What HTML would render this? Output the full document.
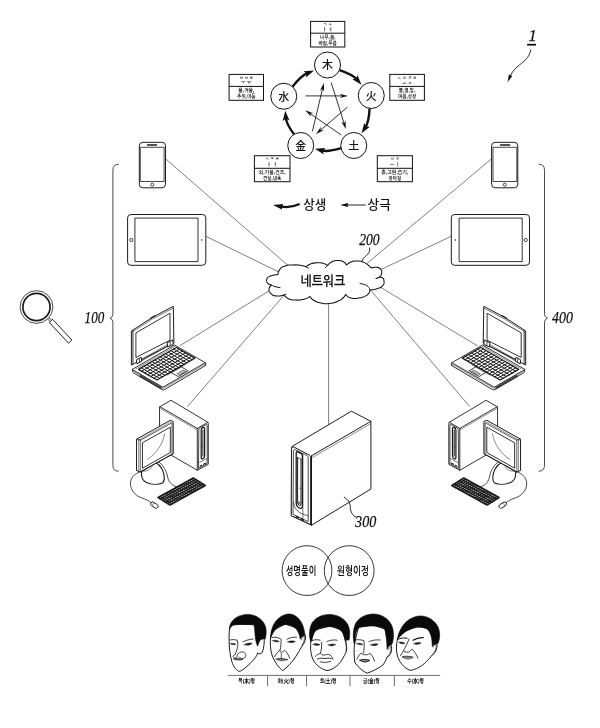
<!DOCTYPE html>
<html lang="ko"><head><meta charset="utf-8"><title>Network system diagram</title>
<style>html,body{margin:0;padding:0;background:#fff}svg{display:block}text{white-space:pre}svg{will-change:transform}</style></head><body>
<svg width="600" height="728" viewBox="0 0 600 728">
<rect width="600" height="728" fill="#fff"/>
<g id="wheel">
<path d="M339.48 70.05 Q352.53 74.41 356.86 79.39" fill="none" stroke="#111" stroke-width="2.4" stroke-linejoin="round" stroke-linecap="butt"/>
<polygon points="361.46,84.67 352.33,79.36 356.21,78.64 357.46,74.9" fill="#111" stroke="none" stroke-width="0" stroke-linejoin="round" />
<path d="M369.6 108.39 Q368.97 121.97 365.42 127.32" fill="none" stroke="#111" stroke-width="2.4" stroke-linejoin="round" stroke-linecap="butt"/>
<polygon points="361.55,133.16 364.24,122.94 365.97,126.49 369.91,126.7" fill="#111" stroke="none" stroke-width="0" stroke-linejoin="round" />
<path d="M341.03 148.2 Q328 152.09 321.76 150.51" fill="none" stroke="#111" stroke-width="2.4" stroke-linejoin="round" stroke-linecap="butt"/>
<polygon points="314.98,148.78 325.51,147.95 322.73,150.75 323.83,154.54" fill="#111" stroke="none" stroke-width="0" stroke-linejoin="round" />
<path d="M294.05 134.36 Q286.26 123.74 285.81 117.75" fill="none" stroke="#111" stroke-width="2.4" stroke-linejoin="round" stroke-linecap="butt"/>
<polygon points="285.29,110.77 289.43,120.49 285.89,118.75 282.65,121" fill="#111" stroke="none" stroke-width="0" stroke-linejoin="round" />
<path d="M292.53 86.66 Q301.18 75.7 307.51 73.18" fill="none" stroke="#111" stroke-width="2.4" stroke-linejoin="round" stroke-linecap="butt"/>
<polygon points="314.02,70.6 305.98,77.45 306.58,73.55 303.47,71.13" fill="#111" stroke="none" stroke-width="0" stroke-linejoin="round" />
<line x1="305.5" y1="95.9" x2="343" y2="95.9" stroke="#111" stroke-width="0.85" />
<polygon points="348,95.9 339.6,98.1 342.29,95.9 339.6,93.7" fill="#111" stroke="none" stroke-width="0" stroke-linejoin="round" />
<line x1="331.2" y1="82.5" x2="344.39" y2="124.23" stroke="#111" stroke-width="0.85" />
<polygon points="345.9,129 341.27,121.65 344.18,123.55 345.47,120.33" fill="#111" stroke="none" stroke-width="0" stroke-linejoin="round" />
<line x1="347.6" y1="107" x2="319.8" y2="130.75" stroke="#111" stroke-width="0.85" />
<polygon points="316,134 320.96,126.87 320.34,130.29 323.82,130.22" fill="#111" stroke="none" stroke-width="0" stroke-linejoin="round" />
<line x1="341.3" y1="135" x2="309.42" y2="113.13" stroke="#111" stroke-width="0.85" />
<polygon points="305.3,110.3 313.47,113.24 310.01,113.53 310.98,116.87" fill="#111" stroke="none" stroke-width="0" stroke-linejoin="round" />
<line x1="312.4" y1="131.4" x2="322.74" y2="87.86" stroke="#111" stroke-width="0.85" />
<polygon points="323.9,83 324.1,91.68 322.58,88.56 319.82,90.66" fill="#111" stroke="none" stroke-width="0" stroke-linejoin="round" />
<circle cx="327.5" cy="65" r="13" fill="#fff" stroke="#111" stroke-width="1"/>
<text x="327.5" y="69.4" font-family='"Liberation Sans", "Noto Sans CJK KR", "Noto Sans CJK SC", sans-serif' font-size="11" text-anchor="middle" font-weight="500" font-style="normal" fill="#111" >木</text>
<circle cx="371.25" cy="95.5" r="13" fill="#fff" stroke="#111" stroke-width="1"/>
<text x="371.25" y="99.9" font-family='"Liberation Sans", "Noto Sans CJK KR", "Noto Sans CJK SC", sans-serif' font-size="11" text-anchor="middle" font-weight="500" font-style="normal" fill="#111" >火</text>
<circle cx="353.75" cy="145.5" r="13" fill="#fff" stroke="#111" stroke-width="1"/>
<text x="353.75" y="149.9" font-family='"Liberation Sans", "Noto Sans CJK KR", "Noto Sans CJK SC", sans-serif' font-size="11" text-anchor="middle" font-weight="500" font-style="normal" fill="#111" >土</text>
<circle cx="300.75" cy="145.5" r="13" fill="#fff" stroke="#111" stroke-width="1"/>
<text x="300.75" y="149.9" font-family='"Liberation Sans", "Noto Sans CJK KR", "Noto Sans CJK SC", sans-serif' font-size="11" text-anchor="middle" font-weight="500" font-style="normal" fill="#111" >金</text>
<circle cx="283.75" cy="96.25" r="13" fill="#fff" stroke="#111" stroke-width="1"/>
<text x="283.75" y="100.65" font-family='"Liberation Sans", "Noto Sans CJK KR", "Noto Sans CJK SC", sans-serif' font-size="11" text-anchor="middle" font-weight="500" font-style="normal" fill="#111" >水</text>
</g>
<g id="boxes">
<rect x="310.6" y="21.4" width="34.2" height="25.6" fill="#fff" stroke="#111" stroke-width="1"/>
<line x1="310.6" y1="33.2" x2="344.8" y2="33.2" stroke="#111" stroke-width="1" />
<text x="327.7" y="25.7" font-family='"Liberation Sans", "NanumGothic", "Noto Sans CJK KR", sans-serif' font-size="4.2" text-anchor="middle" font-weight="bold" font-style="normal" fill="#111" >ㄱ ㅋ</text>
<text x="327.7" y="31.3" font-family='"Liberation Sans", "NanumGothic", "Noto Sans CJK KR", sans-serif' font-size="4.6" text-anchor="middle" font-weight="bold" font-style="normal" fill="#111" >ㅏ ㅕ</text>
<text x="327.7" y="39.1" font-family='"Liberation Sans", "NanumGothic", "Noto Sans CJK KR", sans-serif' font-size="5.2" text-anchor="middle" font-weight="bold" font-style="normal" fill="#111" textLength="15.8" lengthAdjust="spacingAndGlyphs">나무,봄,</text>
<text x="327.7" y="44.8" font-family='"Liberation Sans", "NanumGothic", "Noto Sans CJK KR", sans-serif' font-size="5.2" text-anchor="middle" font-weight="bold" font-style="normal" fill="#111" textLength="18.4" lengthAdjust="spacingAndGlyphs">바람,푸름</text>
<rect x="229.1" y="74.4" width="34.4" height="25.9" fill="#fff" stroke="#111" stroke-width="1"/>
<line x1="229.1" y1="86.4" x2="263.5" y2="86.4" stroke="#111" stroke-width="1" />
<text x="246.3" y="78.7" font-family='"Liberation Sans", "NanumGothic", "Noto Sans CJK KR", sans-serif' font-size="4.2" text-anchor="middle" font-weight="bold" font-style="normal" fill="#111" >ㅁ ㅂ ㅍ</text>
<text x="246.3" y="84.3" font-family='"Liberation Sans", "NanumGothic", "Noto Sans CJK KR", sans-serif' font-size="4.6" text-anchor="middle" font-weight="bold" font-style="normal" fill="#111" >ㅜ ㅠ</text>
<text x="246.3" y="92.3" font-family='"Liberation Sans", "NanumGothic", "Noto Sans CJK KR", sans-serif' font-size="5.2" text-anchor="middle" font-weight="bold" font-style="normal" fill="#111" textLength="16" lengthAdjust="spacingAndGlyphs">물,겨울,</text>
<text x="246.3" y="98" font-family='"Liberation Sans", "NanumGothic", "Noto Sans CJK KR", sans-serif' font-size="5.2" text-anchor="middle" font-weight="bold" font-style="normal" fill="#111" textLength="18.4" lengthAdjust="spacingAndGlyphs">추위,어둠</text>
<rect x="389.8" y="74.4" width="34.6" height="25.9" fill="#fff" stroke="#111" stroke-width="1"/>
<line x1="389.8" y1="86.4" x2="424.4" y2="86.4" stroke="#111" stroke-width="1" />
<text x="407.1" y="78.7" font-family='"Liberation Sans", "NanumGothic", "Noto Sans CJK KR", sans-serif' font-size="4.2" text-anchor="middle" font-weight="bold" font-style="normal" fill="#111" >ㄴ ㄷ ㄹ ㅌ</text>
<text x="407.1" y="84.3" font-family='"Liberation Sans", "NanumGothic", "Noto Sans CJK KR", sans-serif' font-size="4.6" text-anchor="middle" font-weight="bold" font-style="normal" fill="#111" >ㅗ ㅛ</text>
<text x="407.1" y="92.3" font-family='"Liberation Sans", "NanumGothic", "Noto Sans CJK KR", sans-serif' font-size="5.2" text-anchor="middle" font-weight="bold" font-style="normal" fill="#111" textLength="16.6" lengthAdjust="spacingAndGlyphs">불,열,빛,</text>
<text x="407.1" y="98" font-family='"Liberation Sans", "NanumGothic", "Noto Sans CJK KR", sans-serif' font-size="5.2" text-anchor="middle" font-weight="bold" font-style="normal" fill="#111" textLength="18.4" lengthAdjust="spacingAndGlyphs">여름,성장</text>
<rect x="254.4" y="155.7" width="35.6" height="26" fill="#fff" stroke="#111" stroke-width="1"/>
<line x1="254.4" y1="168.3" x2="290" y2="168.3" stroke="#111" stroke-width="1" />
<text x="272.2" y="160" font-family='"Liberation Sans", "NanumGothic", "Noto Sans CJK KR", sans-serif' font-size="4.2" text-anchor="middle" font-weight="bold" font-style="normal" fill="#111" >ㅅ ㅈ ㅊ</text>
<text x="272.2" y="165.6" font-family='"Liberation Sans", "NanumGothic", "Noto Sans CJK KR", sans-serif' font-size="4.6" text-anchor="middle" font-weight="bold" font-style="normal" fill="#111" >ㅑ ㅓ</text>
<text x="272.2" y="174.2" font-family='"Liberation Sans", "NanumGothic", "Noto Sans CJK KR", sans-serif' font-size="5.2" text-anchor="middle" font-weight="bold" font-style="normal" fill="#111" textLength="27" lengthAdjust="spacingAndGlyphs">쇠,가을,건조,</text>
<text x="272.2" y="179.9" font-family='"Liberation Sans", "NanumGothic", "Noto Sans CJK KR", sans-serif' font-size="5.2" text-anchor="middle" font-weight="bold" font-style="normal" fill="#111" textLength="18.4" lengthAdjust="spacingAndGlyphs">견실,냉혹</text>
<rect x="377.3" y="155.7" width="35.1" height="26" fill="#fff" stroke="#111" stroke-width="1"/>
<line x1="377.3" y1="168.3" x2="412.4" y2="168.3" stroke="#111" stroke-width="1" />
<text x="394.85" y="160" font-family='"Liberation Sans", "NanumGothic", "Noto Sans CJK KR", sans-serif' font-size="4.2" text-anchor="middle" font-weight="bold" font-style="normal" fill="#111" >ㅇ ㅎ</text>
<text x="394.85" y="165.6" font-family='"Liberation Sans", "NanumGothic", "Noto Sans CJK KR", sans-serif' font-size="4.6" text-anchor="middle" font-weight="bold" font-style="normal" fill="#111" >ㅡ ㅣ</text>
<text x="394.85" y="174.2" font-family='"Liberation Sans", "NanumGothic", "Noto Sans CJK KR", sans-serif' font-size="5.2" text-anchor="middle" font-weight="bold" font-style="normal" fill="#111" textLength="27" lengthAdjust="spacingAndGlyphs">흙,고원,습기,</text>
<text x="394.85" y="179.9" font-family='"Liberation Sans", "NanumGothic", "Noto Sans CJK KR", sans-serif' font-size="5.2" text-anchor="middle" font-weight="bold" font-style="normal" fill="#111" textLength="12.6" lengthAdjust="spacingAndGlyphs">장마철</text>
</g>
<g id="legend">
<path d="M299.6 204.0 C294.0 206.6 288.5 207.8 281.5 206.6" fill="none" stroke="#111" stroke-width="2.2" stroke-linejoin="round" stroke-linecap="butt"/>
<polygon points="273,204.9 282.98,203.89 281.87,209.58" fill="#111" stroke="none" stroke-width="0" stroke-linejoin="round" />
<text x="314.8" y="208.9" font-family='"Liberation Sans", "Noto Sans CJK KR", "NanumGothic", sans-serif' font-size="12.6" text-anchor="middle" font-weight="500" font-style="normal" fill="#111" >상생</text>
<line x1="365.8" y1="205" x2="345" y2="205" stroke="#111" stroke-width="0.9" />
<polygon points="340.2,205 347.8,202.9 347.8,207.1" fill="#111" stroke="none" stroke-width="0" stroke-linejoin="round" />
<text x="379.2" y="208.9" font-family='"Liberation Sans", "Noto Sans CJK KR", "NanumGothic", sans-serif' font-size="12.6" text-anchor="middle" font-weight="500" font-style="normal" fill="#111" >상극</text>
</g>
<g id="links" stroke="#2a2a2a" stroke-width="0.6" fill="none">
<line x1="165.6" y1="158.8" x2="292.28" y2="269.2"/>
<line x1="205.9" y1="236.3" x2="284.09" y2="274.58"/>
<line x1="179.6" y1="345.9" x2="276.16" y2="286.53"/>
<line x1="187.3" y1="406.7" x2="286.89" y2="291.91"/>
<line x1="491.5" y1="158.8" x2="364.94" y2="265.2"/>
<line x1="451.2" y1="236.3" x2="374.87" y2="272.39"/>
<line x1="477.5" y1="345.9" x2="375.01" y2="283.98"/>
<line x1="469.8" y1="406.7" x2="367.66" y2="286.67"/>
<line x1="328.6" y1="298" x2="328.6" y2="425.3"/>
</g>
<g id="cloud">
<path d="M278 274.5 C278.53 272.87 277.27 272.43 279.6 269.6 C281.93 266.77 280.87 267.53 285 266 C289.13 264.47 287 265.23 292 265 C297 264.77 295.33 264.7 300 265.3 C304.67 265.9 304 266.3 306 266.8 C307.5 265.87 306.83 265.33 310.5 264 C314.17 262.67 312.67 263 317 262.8 C321.33 262.6 320 262.5 323.5 263.4 C327 264.3 326.17 264.8 327.5 265.5 C328.83 264.33 328 263.67 331.5 262 C335 260.33 334 260.57 338 260.5 C342 260.43 340.67 260.3 343.5 261.8 C346.33 263.3 345.5 263.93 346.5 265 C348 264 347.5 263.33 351 262 C354.5 260.67 352.5 260.8 357 261 C361.5 261.2 359.67 260.27 364.5 262.6 C369.33 264.93 369.17 266.2 371.5 268 C373.33 267.77 373.83 266.7 377 267.3 C380.17 267.9 379.47 267.7 381 269.8 C382.53 271.9 382.07 271.27 381.6 273.6 C381.13 275.93 381.47 275.17 379.6 276.8 C377.73 278.43 377.2 277.93 376 278.5 C377.83 278.2 378.83 276.6 381.5 277.6 C384.17 278.6 383.7 278.7 384 281.5 C384.3 284.3 384.73 283.57 382.4 286 C380.07 288.43 381.13 287.47 377 288.8 C372.87 290.13 372.33 289.6 370 290 C369.2 291.53 370.93 292 367.6 294.6 C364.27 297.2 365.53 296.67 360 297.8 C354.47 298.93 355.83 299.1 351 298 C346.17 296.9 347.33 295.67 345.5 294.5 C344.67 295.67 345.83 295.63 343 298 C340.17 300.37 341.67 299.77 337 301.6 C332.33 303.43 334.33 303.03 329 303.5 C323.67 303.97 326 304 321 303 C316 302 317.67 302.67 314 300.5 C310.33 298.33 311.33 297.83 310 296.5 C308 297.4 309 298.03 304 299.2 C299 300.37 300.33 300.27 295 300 C289.67 299.73 291.67 300.07 288 298.4 C284.33 296.73 285.33 296.13 284 295 C281.5 295.33 280.83 296.47 276.5 296 C272.17 295.53 273.5 295.93 271 293.6 C268.5 291.27 268.83 291.87 269 289 C269.17 286.13 270.67 286.33 271.5 285 C270.2 284.4 269.17 285.13 267.6 283.2 C266.03 281.27 265.8 281.6 266.8 279.2 C267.8 276.8 266.87 277.57 270.6 276 C274.33 274.43 275.53 275 278 274.5 Z" fill="#fff" stroke="#111" stroke-width="1.05" stroke-linecap="round" stroke-linejoin="round" />
<path d="M370.0 290.0 C369.33 288.87 369.83 288.4 368 286.6 C366.17 284.8 367.17 285.63 364.5 284.6 C361.83 283.57 361.5 283.87 360 283.5" fill="none" stroke="#111" stroke-width="1.0" stroke-linecap="round" stroke-linejoin="round" />
<path d="M271.5 285.0 C272.67 285.53 272.17 285.77 275 286.6 C277.83 287.43 278.33 287.2 280 287.5" fill="none" stroke="#111" stroke-width="1.0" stroke-linecap="round" stroke-linejoin="round" />
<path d="M306.0 266.8 L308.5 268.2 M327.5 265.5 L325.2 267.8 M284.0 295.0 L286.0 294.4" fill="none" stroke="#111" stroke-width="0.9" stroke-linecap="round" stroke-linejoin="round" />
<text x="322.8" y="285.6" font-family='"Liberation Sans", "NanumGothic", "Noto Sans CJK KR", sans-serif' font-size="13.8" text-anchor="middle" font-weight="bold" font-style="normal" fill="#111" textLength="44.6" lengthAdjust="spacingAndGlyphs">네트워크</text>
</g>
<g id="braces">
<path d="M118.3 164.2 Q112.9 164.2 112.9 170.2 L112.9 314.2 Q112.9 317 110 318.2 Q112.9 319.4 112.9 322.2 L112.9 465.2 Q112.9 471.2 118.3 471.2" fill="none" stroke="#2a2a2a" stroke-width="0.85" stroke-linecap="round" stroke-linejoin="round" />
<path d="M539.1 164.2 Q544.5 164.2 544.5 170.2 L544.5 314.2 Q544.5 317 547.5 318.2 Q544.5 319.4 544.5 322.2 L544.5 465.2 Q544.5 471.2 539.1 471.2" fill="none" stroke="#2a2a2a" stroke-width="0.85" stroke-linecap="round" stroke-linejoin="round" />
</g>
<g id="dev-left">
<rect x="139.3" y="142.3" width="26.2" height="45.5" rx="3.6" ry="3.6" fill="#fff" stroke="#1c1c1c" stroke-width="1.0"/>
<polygon points="140.7,147.3 164.1,147.3 164.1,181.5 140.7,181.5" fill="none" stroke="#1c1c1c" stroke-width="0.8" stroke-linejoin="round" stroke-linecap="round"/>
<line x1="147.4" y1="145" x2="156.6" y2="145" stroke="#1c1c1c" stroke-width="1.3" stroke-linecap="round"/>
<circle cx="152.3" cy="184.7" r="1.55" fill="none" stroke="#1c1c1c" stroke-width="0.8"/>
<rect x="127.6" y="214.5" width="78.2" height="50.8" rx="3.4" ry="3.4" fill="#fff" stroke="#1c1c1c" stroke-width="1.0"/>
<polygon points="135.3,218.1 198,218.1 198,261.6 135.3,261.6" fill="none" stroke="#1c1c1c" stroke-width="0.9" stroke-linejoin="round" stroke-linecap="round"/>
<circle cx="131.3" cy="240" r="1.6" fill="none" stroke="#1c1c1c" stroke-width="0.8"/>
<circle cx="201.7" cy="240" r="0.75" fill="#1c1c1c" stroke="#1c1c1c" stroke-width="0"/>
<path d="M132.5 369.3 L132.5 371.7 Q132.5 372.3 133.7 373 L162.05 389.6 Q163.25 390.4 164.65 389.5 L205.25 365.7" fill="#fff" stroke="#1c1c1c" stroke-width="0.9" stroke-linecap="round" stroke-linejoin="round"/>
<path d="M205.25 365.7 L205.85 363.9 L205.25 362.7" fill="none" stroke="#1c1c1c" stroke-width="0.9" stroke-linecap="round" stroke-linejoin="round"/>
<polygon points="132.5,369.3 174.5,345 205.25,362.7 163.25,387" fill="#fff" stroke="#1c1c1c" stroke-width="0.9" stroke-linejoin="round" stroke-linecap="round"/>
<polyline points="132.5,370.6 163.25,388.3 205.25,364" fill="none" stroke="#1c1c1c" stroke-width="0.5" stroke-linejoin="round" stroke-linecap="round"/>
<path d="M140.49 375.2L140.49 377M141.51 375.78L141.51 377.58M142.52 376.37L142.52 378.17M143.54 376.95L143.54 378.75M144.55 377.53L144.55 379.33M145.57 378.12L145.57 379.92M146.58 378.7L146.58 380.5M147.6 379.29L147.6 381.09M148.61 379.87L148.61 381.67M149.63 380.45L149.63 382.25M150.64 381.04L150.64 382.84M151.66 381.62L151.66 383.42M152.67 382.21L152.67 384.01M153.69 382.79L153.69 384.59M154.7 383.38L154.7 385.18M155.71 383.96L155.71 385.76M156.73 384.54L156.73 386.34M157.74 385.13L157.74 386.93M158.76 385.71L158.76 387.51M159.77 386.3L159.77 388.1M160.79 386.88L160.79 388.68" fill="none" stroke="#1c1c1c" stroke-width="0.6" stroke-linecap="round" stroke-linejoin="round"/>
<line x1="139.88" y1="375.74" x2="161.71" y2="388.31" stroke="#1c1c1c" stroke-width="0.7" stroke-linecap="round"/>
<polygon points="138.51,369.37 176.31,347.5 194.76,358.12 156.96,379.99" fill="#fff" stroke="#1c1c1c" stroke-width="1.2" stroke-linejoin="round" stroke-linecap="round"/>
<path d="M141.21 367.8L159.66 378.42M143.91 366.24L162.36 376.86M146.61 364.68L165.06 375.3M149.31 363.12L167.76 373.74M152.01 361.56L170.46 372.17M154.71 359.99L173.16 370.61M157.41 358.43L175.86 369.05M160.11 356.87L178.56 367.49M162.81 355.31L181.26 365.93M165.51 353.74L183.96 364.36M168.21 352.18L186.66 362.8M170.91 350.62L189.36 361.24M173.61 349.06L192.06 359.68M141.59 371.14L179.39 349.27M144.66 372.91L182.46 351.04M147.74 374.68L185.54 352.81M150.81 376.45L188.61 354.58M153.89 378.22L191.69 356.35" fill="none" stroke="#1c1c1c" stroke-width="1.0" stroke-linecap="round" stroke-linejoin="round"/>
<line x1="166.78" y1="374.48" x2="180.22" y2="366.71" stroke="#1c1c1c" stroke-width="0.6" stroke-linecap="round"/>
<polygon points="171.75,372.5 181.4,366.91 188.17,370.8 178.51,376.39" fill="#fff" stroke="#1c1c1c" stroke-width="0.8" stroke-linejoin="round" stroke-linecap="round"/>
<polygon points="177.11,373.65 183.41,370 185.87,371.42 179.57,375.07" fill="#bbb" stroke="#1c1c1c" stroke-width="0.5" stroke-linejoin="round" stroke-linecap="round"/>
<line x1="167.55" y1="374.93" x2="171.75" y2="372.5" stroke="#1c1c1c" stroke-width="0.5" stroke-linecap="round"/>
<line x1="181.4" y1="366.91" x2="185.18" y2="364.72" stroke="#1c1c1c" stroke-width="0.5" stroke-linecap="round"/>
<line x1="135.98" y1="368.88" x2="175.04" y2="346.28" stroke="#1c1c1c" stroke-width="0.5" stroke-linecap="round"/>
<path d="M131.75 330.75 Q152 316.4 173.3 306.3 L173.9 343.05 L131.75 364.8 Z" fill="#fff" stroke="#1c1c1c" stroke-width="1.0" stroke-linecap="round" stroke-linejoin="round"/>
<path d="M132.95 330.45 L132.95 364.2" fill="none" stroke="#1c1c1c" stroke-width="0.9" stroke-linecap="round" stroke-linejoin="round"/>
<path d="M132.95 331.5 Q152 317.9 172.7 308.4" fill="none" stroke="#1c1c1c" stroke-width="0.6" stroke-linecap="round" stroke-linejoin="round"/>
<polygon points="136.25,332.7 170,313.2 170,340.2 136.25,357.3" fill="none" stroke="#1c1c1c" stroke-width="0.9" stroke-linejoin="round" stroke-linecap="round"/>
<line x1="150.5" y1="318.3" x2="155" y2="315.75" stroke="#1c1c1c" stroke-width="1.3" stroke-linecap="round"/>
<polygon points="136.7,359.7 141.2,357.3 141.8,361.2 137.3,363.6" fill="#fff" stroke="#1c1c1c" stroke-width="1.0" stroke-linejoin="round" stroke-linecap="round"/>
<line x1="139.25" y1="358.8" x2="139.55" y2="362.1" stroke="#1c1c1c" stroke-width="0.8" stroke-linecap="round"/>
<polygon points="167.45,342.6 172.7,339.9 173.3,344.4 168.05,346.8" fill="#fff" stroke="#1c1c1c" stroke-width="1.0" stroke-linejoin="round" stroke-linecap="round"/>
<line x1="170" y1="341.55" x2="170.3" y2="345.3" stroke="#1c1c1c" stroke-width="0.8" stroke-linecap="round"/>
<line x1="141.8" y1="359.25" x2="167.45" y2="344.7" stroke="#1c1c1c" stroke-width="0.6" stroke-linecap="round"/>
<line x1="141.8" y1="360.75" x2="167.45" y2="346.2" stroke="#1c1c1c" stroke-width="0.6" stroke-linecap="round"/>
<polygon points="159.9,406.7 171,400.3 207.9,422.3 208.3,423.5 208.3,464.3 197.3,470.3 159.9,448.6" fill="#fff" stroke="#1c1c1c" stroke-width="0.9" stroke-linejoin="round" stroke-linecap="round"/>
<line x1="159.9" y1="406.7" x2="197.3" y2="428.4" stroke="#1c1c1c" stroke-width="0.9" stroke-linecap="round"/>
<line x1="197.3" y1="428.4" x2="207.9" y2="422.3" stroke="#1c1c1c" stroke-width="0.9" stroke-linecap="round"/>
<line x1="197.3" y1="428.4" x2="197.3" y2="470.3" stroke="#1c1c1c" stroke-width="0.9" stroke-linecap="round"/>
<line x1="160.6" y1="408.6" x2="196.6" y2="429.6" stroke="#1c1c1c" stroke-width="0.5" stroke-linecap="round"/>
<path d="M198.8 430.2 Q198.8 428.6 200.2 427.8 L205.8 424.7 Q207.2 424.0 207.2 425.6 L207.2 463.6 L198.8 468.2 Z" fill="none" stroke="#1c1c1c" stroke-width="0.8" stroke-linecap="round" stroke-linejoin="round"/>
<path d="M201.2 430.2 Q201.2 428.4 202.8 427.6 Q204.6 426.8 204.6 428.6 L204.6 455.6 Q204.6 458.0 202.8 458.8 Q201.2 459.4 201.2 457.4 Z" fill="none" stroke="#1c1c1c" stroke-width="1.25" stroke-linecap="round" stroke-linejoin="round"/>
<line x1="202.9" y1="430" x2="202.9" y2="456" stroke="#1c1c1c" stroke-width="1.0" stroke-linecap="round"/>
<line x1="201.2" y1="447.5" x2="202.9" y2="446.6" stroke="#1c1c1c" stroke-width="0.5" stroke-linecap="round"/>
<path d="M199.6 462.4 L206.6 458.6" fill="none" stroke="#1c1c1c" stroke-width="0.6" stroke-linecap="round" stroke-linejoin="round"/>
<path d="M200.2 466.2 L201.8 465.3 M203.6 464.3 L205.6 463.2" fill="none" stroke="#1c1c1c" stroke-width="1.2" stroke-linecap="round" stroke-linejoin="round"/>
<path d="M141.6 471.6 C141.0 476.5 142.4 480.4 146.0 482.2 C151.0 484.6 158.0 485.0 162.6 483.0 C165.2 480.6 164.6 474.0 162.0 469.0 C160.0 465.4 157.6 463.6 155.6 462.6 L141.6 471.6 Z" fill="#fff" stroke="#1c1c1c" stroke-width="1.1" stroke-linecap="round" stroke-linejoin="round"/>
<path d="M152.0 467.0 C150.4 469.6 147.8 471.0 143.6 471.4" fill="none" stroke="#1c1c1c" stroke-width="0.5" stroke-linecap="round" stroke-linejoin="round"/>
<path d="M158.6 461.6 C163.6 465.6 166.4 471.0 167.4 476.0 C168.4 481.0 170.4 485.0 176.4 486.6" fill="none" stroke="#1c1c1c" stroke-width="0.8" stroke-linecap="round" stroke-linejoin="round"/>
<path d="M140.6 471.8 C134.0 473.4 130.2 478.6 130.4 484.0 C130.8 491.0 136.0 496.0 142.0 498.0 C146.0 499.4 149.0 500.6 151.2 503.0" fill="none" stroke="#1c1c1c" stroke-width="0.8" stroke-linecap="round" stroke-linejoin="round"/>
<g transform="rotate(33 154.3 505)"><rect x="150.3" y="503.1" width="8.2" height="3.9" rx="1.7" ry="1.7" fill="#fff" stroke="#1c1c1c" stroke-width="0.9"/><line x1="152.8" y1="503.1" x2="152.8" y2="507" stroke="#1c1c1c" stroke-width="0.5"/></g>
<polygon points="136.9,439 170.3,420.3 173.2,421.5 173.2,453.8 140.6,471.9 136.9,470.7" fill="#fff" stroke="#1c1c1c" stroke-width="1.0" stroke-linejoin="round" stroke-linecap="round"/>
<polygon points="140.6,440.2 172,422.8 172,454.2 140.6,471.6" fill="none" stroke="#1c1c1c" stroke-width="0.7" stroke-linejoin="round" stroke-linecap="round"/>
<line x1="136.9" y1="439" x2="140.6" y2="440.2" stroke="#1c1c1c" stroke-width="0.7" stroke-linecap="round"/>
<line x1="138.7" y1="439.5" x2="138.7" y2="471.3" stroke="#1c1c1c" stroke-width="0.5" stroke-linecap="round"/>
<line x1="138" y1="440.4" x2="170.9" y2="421.9" stroke="#1c1c1c" stroke-width="0.5" stroke-linecap="round"/>
<polygon points="142.8,442.6 170.3,427.2 170.3,452.6 142.8,468" fill="none" stroke="#1c1c1c" stroke-width="0.9" stroke-linejoin="round" stroke-linecap="round"/>
<path d="M164.7 433.8 C163.0 444.0 156.0 454.0 147.4 459.4" fill="none" stroke="#1c1c1c" stroke-width="0.5" stroke-linecap="round" stroke-linejoin="round"/>
<polygon points="158,497.5 193.3,478 205.3,485.5 170,505" fill="#bdbdbd" stroke="#1c1c1c" stroke-width="1.5" stroke-linejoin="round" stroke-linecap="round"/>
<path d="M160.08 496.35L172.08 503.85M162.15 495.21L174.15 502.71M164.23 494.06L176.23 501.56M166.31 492.91L178.31 500.41M168.38 491.76L180.38 499.26M170.46 490.62L182.46 498.12M172.54 489.47L184.54 496.97M174.61 488.32L186.61 495.82M176.69 487.18L188.69 494.68M178.76 486.03L190.76 493.53M180.84 484.88L192.84 492.38M182.92 483.74L194.92 491.24M184.99 482.59L196.99 490.09M187.07 481.44L199.07 488.94M189.15 480.29L201.15 487.79M191.22 479.15L203.22 486.65M160.4 499L195.7 479.5M162.8 500.5L198.1 481M165.2 502L200.5 482.5M167.6 503.5L202.9 484" fill="none" stroke="#1c1c1c" stroke-width="1.3" stroke-linecap="round" stroke-linejoin="round"/>
</g>
<g id="dev-right" transform="translate(657.1 0) scale(-1 1)">
<rect x="139.3" y="142.3" width="26.2" height="45.5" rx="3.6" ry="3.6" fill="#fff" stroke="#1c1c1c" stroke-width="1.0"/>
<polygon points="140.7,147.3 164.1,147.3 164.1,181.5 140.7,181.5" fill="none" stroke="#1c1c1c" stroke-width="0.8" stroke-linejoin="round" stroke-linecap="round"/>
<line x1="147.4" y1="145" x2="156.6" y2="145" stroke="#1c1c1c" stroke-width="1.3" stroke-linecap="round"/>
<circle cx="152.3" cy="184.7" r="1.55" fill="none" stroke="#1c1c1c" stroke-width="0.8"/>
<rect x="127.6" y="214.5" width="78.2" height="50.8" rx="3.4" ry="3.4" fill="#fff" stroke="#1c1c1c" stroke-width="1.0"/>
<polygon points="135.3,218.1 198,218.1 198,261.6 135.3,261.6" fill="none" stroke="#1c1c1c" stroke-width="0.9" stroke-linejoin="round" stroke-linecap="round"/>
<circle cx="131.3" cy="240" r="1.6" fill="none" stroke="#1c1c1c" stroke-width="0.8"/>
<circle cx="201.7" cy="240" r="0.75" fill="#1c1c1c" stroke="#1c1c1c" stroke-width="0"/>
<path d="M132.5 369.3 L132.5 371.7 Q132.5 372.3 133.7 373 L162.05 389.6 Q163.25 390.4 164.65 389.5 L205.25 365.7" fill="#fff" stroke="#1c1c1c" stroke-width="0.9" stroke-linecap="round" stroke-linejoin="round"/>
<path d="M205.25 365.7 L205.85 363.9 L205.25 362.7" fill="none" stroke="#1c1c1c" stroke-width="0.9" stroke-linecap="round" stroke-linejoin="round"/>
<polygon points="132.5,369.3 174.5,345 205.25,362.7 163.25,387" fill="#fff" stroke="#1c1c1c" stroke-width="0.9" stroke-linejoin="round" stroke-linecap="round"/>
<polyline points="132.5,370.6 163.25,388.3 205.25,364" fill="none" stroke="#1c1c1c" stroke-width="0.5" stroke-linejoin="round" stroke-linecap="round"/>
<path d="M140.49 375.2L140.49 377M141.51 375.78L141.51 377.58M142.52 376.37L142.52 378.17M143.54 376.95L143.54 378.75M144.55 377.53L144.55 379.33M145.57 378.12L145.57 379.92M146.58 378.7L146.58 380.5M147.6 379.29L147.6 381.09M148.61 379.87L148.61 381.67M149.63 380.45L149.63 382.25M150.64 381.04L150.64 382.84M151.66 381.62L151.66 383.42M152.67 382.21L152.67 384.01M153.69 382.79L153.69 384.59M154.7 383.38L154.7 385.18M155.71 383.96L155.71 385.76M156.73 384.54L156.73 386.34M157.74 385.13L157.74 386.93M158.76 385.71L158.76 387.51M159.77 386.3L159.77 388.1M160.79 386.88L160.79 388.68" fill="none" stroke="#1c1c1c" stroke-width="0.6" stroke-linecap="round" stroke-linejoin="round"/>
<line x1="139.88" y1="375.74" x2="161.71" y2="388.31" stroke="#1c1c1c" stroke-width="0.7" stroke-linecap="round"/>
<polygon points="138.51,369.37 176.31,347.5 194.76,358.12 156.96,379.99" fill="#fff" stroke="#1c1c1c" stroke-width="1.2" stroke-linejoin="round" stroke-linecap="round"/>
<path d="M141.21 367.8L159.66 378.42M143.91 366.24L162.36 376.86M146.61 364.68L165.06 375.3M149.31 363.12L167.76 373.74M152.01 361.56L170.46 372.17M154.71 359.99L173.16 370.61M157.41 358.43L175.86 369.05M160.11 356.87L178.56 367.49M162.81 355.31L181.26 365.93M165.51 353.74L183.96 364.36M168.21 352.18L186.66 362.8M170.91 350.62L189.36 361.24M173.61 349.06L192.06 359.68M141.59 371.14L179.39 349.27M144.66 372.91L182.46 351.04M147.74 374.68L185.54 352.81M150.81 376.45L188.61 354.58M153.89 378.22L191.69 356.35" fill="none" stroke="#1c1c1c" stroke-width="1.0" stroke-linecap="round" stroke-linejoin="round"/>
<line x1="166.78" y1="374.48" x2="180.22" y2="366.71" stroke="#1c1c1c" stroke-width="0.6" stroke-linecap="round"/>
<polygon points="171.75,372.5 181.4,366.91 188.17,370.8 178.51,376.39" fill="#fff" stroke="#1c1c1c" stroke-width="0.8" stroke-linejoin="round" stroke-linecap="round"/>
<polygon points="177.11,373.65 183.41,370 185.87,371.42 179.57,375.07" fill="#bbb" stroke="#1c1c1c" stroke-width="0.5" stroke-linejoin="round" stroke-linecap="round"/>
<line x1="167.55" y1="374.93" x2="171.75" y2="372.5" stroke="#1c1c1c" stroke-width="0.5" stroke-linecap="round"/>
<line x1="181.4" y1="366.91" x2="185.18" y2="364.72" stroke="#1c1c1c" stroke-width="0.5" stroke-linecap="round"/>
<line x1="135.98" y1="368.88" x2="175.04" y2="346.28" stroke="#1c1c1c" stroke-width="0.5" stroke-linecap="round"/>
<path d="M131.75 330.75 Q152 316.4 173.3 306.3 L173.9 343.05 L131.75 364.8 Z" fill="#fff" stroke="#1c1c1c" stroke-width="1.0" stroke-linecap="round" stroke-linejoin="round"/>
<path d="M132.95 330.45 L132.95 364.2" fill="none" stroke="#1c1c1c" stroke-width="0.9" stroke-linecap="round" stroke-linejoin="round"/>
<path d="M132.95 331.5 Q152 317.9 172.7 308.4" fill="none" stroke="#1c1c1c" stroke-width="0.6" stroke-linecap="round" stroke-linejoin="round"/>
<polygon points="136.25,332.7 170,313.2 170,340.2 136.25,357.3" fill="none" stroke="#1c1c1c" stroke-width="0.9" stroke-linejoin="round" stroke-linecap="round"/>
<line x1="150.5" y1="318.3" x2="155" y2="315.75" stroke="#1c1c1c" stroke-width="1.3" stroke-linecap="round"/>
<polygon points="136.7,359.7 141.2,357.3 141.8,361.2 137.3,363.6" fill="#fff" stroke="#1c1c1c" stroke-width="1.0" stroke-linejoin="round" stroke-linecap="round"/>
<line x1="139.25" y1="358.8" x2="139.55" y2="362.1" stroke="#1c1c1c" stroke-width="0.8" stroke-linecap="round"/>
<polygon points="167.45,342.6 172.7,339.9 173.3,344.4 168.05,346.8" fill="#fff" stroke="#1c1c1c" stroke-width="1.0" stroke-linejoin="round" stroke-linecap="round"/>
<line x1="170" y1="341.55" x2="170.3" y2="345.3" stroke="#1c1c1c" stroke-width="0.8" stroke-linecap="round"/>
<line x1="141.8" y1="359.25" x2="167.45" y2="344.7" stroke="#1c1c1c" stroke-width="0.6" stroke-linecap="round"/>
<line x1="141.8" y1="360.75" x2="167.45" y2="346.2" stroke="#1c1c1c" stroke-width="0.6" stroke-linecap="round"/>
<polygon points="159.9,406.7 171,400.3 207.9,422.3 208.3,423.5 208.3,464.3 197.3,470.3 159.9,448.6" fill="#fff" stroke="#1c1c1c" stroke-width="0.9" stroke-linejoin="round" stroke-linecap="round"/>
<line x1="159.9" y1="406.7" x2="197.3" y2="428.4" stroke="#1c1c1c" stroke-width="0.9" stroke-linecap="round"/>
<line x1="197.3" y1="428.4" x2="207.9" y2="422.3" stroke="#1c1c1c" stroke-width="0.9" stroke-linecap="round"/>
<line x1="197.3" y1="428.4" x2="197.3" y2="470.3" stroke="#1c1c1c" stroke-width="0.9" stroke-linecap="round"/>
<line x1="160.6" y1="408.6" x2="196.6" y2="429.6" stroke="#1c1c1c" stroke-width="0.5" stroke-linecap="round"/>
<path d="M198.8 430.2 Q198.8 428.6 200.2 427.8 L205.8 424.7 Q207.2 424.0 207.2 425.6 L207.2 463.6 L198.8 468.2 Z" fill="none" stroke="#1c1c1c" stroke-width="0.8" stroke-linecap="round" stroke-linejoin="round"/>
<path d="M201.2 430.2 Q201.2 428.4 202.8 427.6 Q204.6 426.8 204.6 428.6 L204.6 455.6 Q204.6 458.0 202.8 458.8 Q201.2 459.4 201.2 457.4 Z" fill="none" stroke="#1c1c1c" stroke-width="1.25" stroke-linecap="round" stroke-linejoin="round"/>
<line x1="202.9" y1="430" x2="202.9" y2="456" stroke="#1c1c1c" stroke-width="1.0" stroke-linecap="round"/>
<line x1="201.2" y1="447.5" x2="202.9" y2="446.6" stroke="#1c1c1c" stroke-width="0.5" stroke-linecap="round"/>
<path d="M199.6 462.4 L206.6 458.6" fill="none" stroke="#1c1c1c" stroke-width="0.6" stroke-linecap="round" stroke-linejoin="round"/>
<path d="M200.2 466.2 L201.8 465.3 M203.6 464.3 L205.6 463.2" fill="none" stroke="#1c1c1c" stroke-width="1.2" stroke-linecap="round" stroke-linejoin="round"/>
<path d="M141.6 471.6 C141.0 476.5 142.4 480.4 146.0 482.2 C151.0 484.6 158.0 485.0 162.6 483.0 C165.2 480.6 164.6 474.0 162.0 469.0 C160.0 465.4 157.6 463.6 155.6 462.6 L141.6 471.6 Z" fill="#fff" stroke="#1c1c1c" stroke-width="1.1" stroke-linecap="round" stroke-linejoin="round"/>
<path d="M152.0 467.0 C150.4 469.6 147.8 471.0 143.6 471.4" fill="none" stroke="#1c1c1c" stroke-width="0.5" stroke-linecap="round" stroke-linejoin="round"/>
<path d="M158.6 461.6 C163.6 465.6 166.4 471.0 167.4 476.0 C168.4 481.0 170.4 485.0 176.4 486.6" fill="none" stroke="#1c1c1c" stroke-width="0.8" stroke-linecap="round" stroke-linejoin="round"/>
<path d="M140.6 471.8 C134.0 473.4 130.2 478.6 130.4 484.0 C130.8 491.0 136.0 496.0 142.0 498.0 C146.0 499.4 149.0 500.6 151.2 503.0" fill="none" stroke="#1c1c1c" stroke-width="0.8" stroke-linecap="round" stroke-linejoin="round"/>
<g transform="rotate(33 154.3 505)"><rect x="150.3" y="503.1" width="8.2" height="3.9" rx="1.7" ry="1.7" fill="#fff" stroke="#1c1c1c" stroke-width="0.9"/><line x1="152.8" y1="503.1" x2="152.8" y2="507" stroke="#1c1c1c" stroke-width="0.5"/></g>
<polygon points="136.9,439 170.3,420.3 173.2,421.5 173.2,453.8 140.6,471.9 136.9,470.7" fill="#fff" stroke="#1c1c1c" stroke-width="1.0" stroke-linejoin="round" stroke-linecap="round"/>
<polygon points="140.6,440.2 172,422.8 172,454.2 140.6,471.6" fill="none" stroke="#1c1c1c" stroke-width="0.7" stroke-linejoin="round" stroke-linecap="round"/>
<line x1="136.9" y1="439" x2="140.6" y2="440.2" stroke="#1c1c1c" stroke-width="0.7" stroke-linecap="round"/>
<line x1="138.7" y1="439.5" x2="138.7" y2="471.3" stroke="#1c1c1c" stroke-width="0.5" stroke-linecap="round"/>
<line x1="138" y1="440.4" x2="170.9" y2="421.9" stroke="#1c1c1c" stroke-width="0.5" stroke-linecap="round"/>
<polygon points="142.8,442.6 170.3,427.2 170.3,452.6 142.8,468" fill="none" stroke="#1c1c1c" stroke-width="0.9" stroke-linejoin="round" stroke-linecap="round"/>
<path d="M164.7 433.8 C163.0 444.0 156.0 454.0 147.4 459.4" fill="none" stroke="#1c1c1c" stroke-width="0.5" stroke-linecap="round" stroke-linejoin="round"/>
<polygon points="158,497.5 193.3,478 205.3,485.5 170,505" fill="#bdbdbd" stroke="#1c1c1c" stroke-width="1.5" stroke-linejoin="round" stroke-linecap="round"/>
<path d="M160.08 496.35L172.08 503.85M162.15 495.21L174.15 502.71M164.23 494.06L176.23 501.56M166.31 492.91L178.31 500.41M168.38 491.76L180.38 499.26M170.46 490.62L182.46 498.12M172.54 489.47L184.54 496.97M174.61 488.32L186.61 495.82M176.69 487.18L188.69 494.68M178.76 486.03L190.76 493.53M180.84 484.88L192.84 492.38M182.92 483.74L194.92 491.24M184.99 482.59L196.99 490.09M187.07 481.44L199.07 488.94M189.15 480.29L201.15 487.79M191.22 479.15L203.22 486.65M160.4 499L195.7 479.5M162.8 500.5L198.1 481M165.2 502L200.5 482.5M167.6 503.5L202.9 484" fill="none" stroke="#1c1c1c" stroke-width="1.3" stroke-linecap="round" stroke-linejoin="round"/>
</g>
<g id="server">
<polygon points="292.1,446.5 351.4,411.2 370.9,421.3 370.9,489 311.5,525.2 292.1,516" fill="#fff" stroke="#1c1c1c" stroke-width="1.0" stroke-linejoin="round" stroke-linecap="round"/>
<line x1="311.5" y1="455.8" x2="370.9" y2="421.3" stroke="#1c1c1c" stroke-width="1.0" stroke-linecap="round"/>
<line x1="311.5" y1="455.8" x2="311.5" y2="525.2" stroke="#1c1c1c" stroke-width="1.0" stroke-linecap="round"/>
<line x1="312.2" y1="457.6" x2="370.6" y2="423.8" stroke="#1c1c1c" stroke-width="0.5" stroke-linecap="round"/>
<path d="M291.5 449.6 Q291.5 446.0 294.2 447.2 L309.2 455.0 Q310.6 455.8 310.6 457.6 L310.6 524.6 L291.5 515.8 Z" fill="#fff" stroke="#1c1c1c" stroke-width="1.0" stroke-linecap="round" stroke-linejoin="round"/>
<path d="M293.4 451.6 Q293.4 448.8 295.6 449.8 L307.0 455.6 Q308.2 456.2 308.2 457.8 L308.2 521.6 L293.4 514.6 Z" fill="none" stroke="#1c1c1c" stroke-width="0.8" stroke-linecap="round" stroke-linejoin="round"/>
<line x1="302.9" y1="453.6" x2="302.9" y2="519" stroke="#1c1c1c" stroke-width="0.6" stroke-linecap="round"/>
<path d="M296.2 453.2 Q296.2 451.2 297.8 451.9 L300.8 453.4 Q302.4 454.2 302.4 456.0 L302.4 505.0 Q302.4 509.6 299.3 508.0 Q296.2 506.4 296.2 502.4 Z" fill="none" stroke="#1c1c1c" stroke-width="1.3" stroke-linecap="round" stroke-linejoin="round"/>
<path d="M297.6 457.6 L297.6 502.0 Q297.6 504.6 299.3 505.4 Q301.0 506.0 301.0 503.6 L301.0 459.2" fill="none" stroke="#1c1c1c" stroke-width="1.0" stroke-linecap="round" stroke-linejoin="round"/>
<line x1="297.6" y1="457.6" x2="301" y2="459.2" stroke="#1c1c1c" stroke-width="0.7" stroke-linecap="round"/>
<line x1="299.3" y1="488" x2="301" y2="488.8" stroke="#1c1c1c" stroke-width="0.5" stroke-linecap="round"/>
<circle cx="299.4" cy="502.8" r="0.9" fill="none" stroke="#1c1c1c" stroke-width="0.7"/>
<path d="M293.6 502.0 C294.0 509.0 298.0 513.6 307.8 515.6" fill="none" stroke="#1c1c1c" stroke-width="0.7" stroke-linecap="round" stroke-linejoin="round"/>
<path d="M296.4 516.6 L298.6 517.7 M301.0 518.9 L303.4 520.1" fill="none" stroke="#1c1c1c" stroke-width="1.5" stroke-linecap="round" stroke-linejoin="round"/>
</g>
<g id="magnifier">
<circle cx="36.5" cy="307" r="16.4" fill="#fff" stroke="#1c1c1c" stroke-width="0.8"/>
<circle cx="36.5" cy="307" r="13.6" fill="none" stroke="#1c1c1c" stroke-width="1.7"/>
<g transform="translate(49.2 319.0) rotate(47.1)">
<rect x="0" y="-1.1" width="3.2" height="2.2" fill="#fff" stroke="#1c1c1c" stroke-width="0.7"/>
<rect x="2.6" y="-2.3" width="28.25" height="4.6" fill="#fff" stroke="#1c1c1c" stroke-width="0.9"/>
</g>
</g>
<g id="venn">
<circle cx="307.0" cy="570.6" r="24.9" fill="none" stroke="#222" stroke-width="0.9"/>
<circle cx="349.2" cy="570.6" r="24.9" fill="none" stroke="#222" stroke-width="0.9"/>
<text x="301.0" y="574.9" font-family='"Liberation Sans", "NanumGothic", "Noto Sans CJK KR", sans-serif' font-size="11.5" font-weight="bold" text-anchor="middle" fill="#111" textLength="30.6" lengthAdjust="spacingAndGlyphs">성명풀이</text>
<text x="353.0" y="574.9" font-family='"Liberation Sans", "NanumGothic", "Noto Sans CJK KR", sans-serif' font-size="11.5" font-weight="bold" text-anchor="middle" fill="#111" textLength="31.8" lengthAdjust="spacingAndGlyphs">원형이정</text>
</g>
<g id="faces">
<path d="M 229.5 628.5 C 228.8 636 228.6 650 231.8 661.5 C 233.5 667 237 671.2 239.8 671.4 C 245 669 252 662 255.2 657.8 C 256.5 656 257.2 654.5 257.6 653 C 259.2 654.6 261.6 654 262.4 652 C 263.8 648 264.4 643 264.2 639.5 L 262 625 L 233 624 Z" fill="#fff" stroke="#111" stroke-width="0.95" stroke-linecap="round" stroke-linejoin="round"/>
<path d="M 229.5 629 C 229 622 236 614.8 247 614.4 C 257 614.2 265 621 266 629 C 266.4 633 266 636.5 265 639.2 C 263.5 638.6 261.5 639 260 640.2 C 259.2 641.8 258.4 644 257.6 646.2 C 256 643 255.2 638 255 634 C 254.8 630 254.4 626.5 253.8 624.6 C 247 624 239 624 233.2 625.2 C 231.6 626 230.2 627.4 229.5 629 Z" fill="#0a0a0a" stroke="#0a0a0a" stroke-width="0.6" stroke-linecap="round" stroke-linejoin="round"/>
<path d="M 230 640 C 232 639.4 234.5 639.4 236.6 640.2" fill="none" stroke="#111" stroke-width="0.8" stroke-linecap="round" stroke-linejoin="round"/>
<path d="M 243 641.8 C 246 640.2 250 639.2 253.2 639" fill="none" stroke="#111" stroke-width="0.8" stroke-linecap="round" stroke-linejoin="round"/>
<path d="M 230.4 643.8 C 232 643 234.5 643.2 236 644.2 C 234.2 645 232 645 230.4 643.8 Z" fill="#222" stroke="#111" stroke-width="0.4" stroke-linecap="round" stroke-linejoin="round"/>
<path d="M 244.2 644.8 C 246.5 643 250 642.6 252.2 643.4 C 250.5 645.2 247 645.8 244.2 644.8 Z" fill="#222" stroke="#111" stroke-width="0.4" stroke-linecap="round" stroke-linejoin="round"/>
<path d="M 237 640 C 238 643 238.2 645 237.6 647.2 C 237 650 236 652.5 235.2 654.2" fill="none" stroke="#111" stroke-width="0.8" stroke-linecap="round" stroke-linejoin="round"/>
<path d="M 235.2 654.2 C 233 655.2 232.4 657 234.2 657.8 C 236 658.4 237.6 657 237.2 655.2 C 238 653 241 651.2 243.4 652 C 246 653 246.6 656 244.6 657.8 C 243 659.2 240.4 658.8 239.2 657" fill="none" stroke="#111" stroke-width="0.8" stroke-linecap="round" stroke-linejoin="round"/>
<path d="M 233.8 659 C 236 658.4 239.6 658.6 242.4 659.6" fill="none" stroke="#111" stroke-width="0.9" stroke-linecap="round" stroke-linejoin="round"/>
<path d="M 234.2 659.2 C 236.5 658.8 239.5 659 241.8 659.8 C 239.5 660.6 236.5 660.4 234.2 659.2 Z" fill="#777" stroke="#111" stroke-width="0.4" stroke-linecap="round" stroke-linejoin="round"/>
<path d="M 270.5 637.5 C 270 643 270.4 650 272 655 C 274.5 662 279 668 282.6 670.6 C 287 668 292 662 295.5 657 C 298 653 300 650 301.6 646.8 C 304 644 305.8 640 305.6 636.2 C 305.4 634.6 304.6 634.4 303.8 635.2 L 300 629 L 285 624 L 274 630 Z" fill="#fff" stroke="#111" stroke-width="0.95" stroke-linecap="round" stroke-linejoin="round"/>
<path d="M 270.5 638.5 C 270.4 633 272 626 276 621 C 280 616 286 613.6 290 614 C 296 614.6 301 620 303 626 C 304.2 630 304.8 633 305 635.2 C 303 635.8 301.2 637.2 300.2 639.2 C 299.6 635 298.2 631 296 628.8 C 293 626 289 624.4 285.2 624.6 C 281 625 277 627.6 274.8 630.4 C 272.6 633.2 271.2 636.2 270.5 638.5 Z" fill="#0a0a0a" stroke="#0a0a0a" stroke-width="0.6" stroke-linecap="round" stroke-linejoin="round"/>
<path d="M 301.2 640 C 302 638 303.2 636.6 304.4 636.2 C 304.8 639 303.8 643 301.8 645.6" fill="none" stroke="#111" stroke-width="0.6" stroke-linecap="round" stroke-linejoin="round"/>
<path d="M 272 637.6 C 274.5 636.8 277.5 637.2 280 638.6" fill="none" stroke="#111" stroke-width="0.8" stroke-linecap="round" stroke-linejoin="round"/>
<path d="M 287 639.2 C 290 637.6 293.5 637 296.6 637.2" fill="none" stroke="#111" stroke-width="0.8" stroke-linecap="round" stroke-linejoin="round"/>
<path d="M 272.6 640.6 C 274.5 639.8 277.5 640.2 279.4 641.6 C 277 642.4 274.2 642 272.6 640.6 Z" fill="#222" stroke="#111" stroke-width="0.4" stroke-linecap="round" stroke-linejoin="round"/>
<path d="M 287.6 641.8 C 290 640.6 293.2 640.6 295.4 641.4 C 293.2 643 290 643.2 287.6 641.8 Z" fill="#222" stroke="#111" stroke-width="0.4" stroke-linecap="round" stroke-linejoin="round"/>
<path d="M 281 639 C 281.4 643 280.8 647 280 650.2" fill="none" stroke="#111" stroke-width="0.8" stroke-linecap="round" stroke-linejoin="round"/>
<path d="M 274.4 657 C 276 654 277.8 651.6 280 650.4 C 280.6 652 281.6 652.8 282.6 652 C 283.4 651 284.2 650.4 285 650.6 C 287 652.4 288.6 655.2 289.6 658.2" fill="none" stroke="#111" stroke-width="0.8" stroke-linecap="round" stroke-linejoin="round"/>
<path d="M 281.2 652.8 C 281.4 654.8 281.4 656.6 281.2 658.4" fill="none" stroke="#111" stroke-width="0.7" stroke-linecap="round" stroke-linejoin="round"/>
<path d="M 276 659 C 279 658.4 284 658.6 287.6 659.6" fill="none" stroke="#111" stroke-width="0.9" stroke-linecap="round" stroke-linejoin="round"/>
<path d="M 277 659.4 C 280 659 284 659.2 286.8 659.8 C 284 661.4 280 661.4 277 659.4 Z" fill="#888" stroke="#111" stroke-width="0.4" stroke-linecap="round" stroke-linejoin="round"/>
<path d="M 311 640.5 C 310.2 646 310.4 652 312 657 C 314 663 319 668.5 327 670.6 C 334 669.6 340 664 343 658 C 344 656.2 344.6 655 345.2 653.8 C 346.8 652 347.2 647 346 642 L 342 630 L 330 626 L 315 630 Z" fill="#fff" stroke="#111" stroke-width="0.95" stroke-linecap="round" stroke-linejoin="round"/>
<path d="M 310.6 641.2 C 309 636 309 629 312 623 C 315.5 617.5 322 614.6 329.2 614.4 C 337 614.4 344 618 347.5 624 C 350.2 629 350.2 635 349 640.2 C 347.8 639.6 346.4 640 345.2 641.2 C 344.8 638 343.8 634 342 631.8 C 339 628.4 334 626.6 329.8 626.6 C 325 626.6 319 628 316 630.4 C 313.5 632.8 312.2 637 312 640.4 Z" fill="#0a0a0a" stroke="#0a0a0a" stroke-width="0.6" stroke-linecap="round" stroke-linejoin="round"/>
<path d="M 345.2 642 C 346.2 644 346.6 648 346 651" fill="none" stroke="#111" stroke-width="0.6" stroke-linecap="round" stroke-linejoin="round"/>
<path d="M 312 640.6 C 314.5 639.6 317.5 639.4 320.2 640.2" fill="none" stroke="#111" stroke-width="0.8" stroke-linecap="round" stroke-linejoin="round"/>
<path d="M 327 641.6 C 330 640 334 639.6 337.2 640.2" fill="none" stroke="#111" stroke-width="0.8" stroke-linecap="round" stroke-linejoin="round"/>
<path d="M 313.2 644.2 C 315 643.2 318 643.4 320 644.8 C 317.8 645.8 315 645.6 313.2 644.2 Z" fill="#222" stroke="#111" stroke-width="0.4" stroke-linecap="round" stroke-linejoin="round"/>
<path d="M 328.2 645 C 330.5 643.6 333.5 643.6 335.8 644.6 C 333.5 646.2 330.5 646.4 328.2 645 Z" fill="#222" stroke="#111" stroke-width="0.4" stroke-linecap="round" stroke-linejoin="round"/>
<path d="M 321.6 642.2 C 322 646 321.4 650 320.4 653.2" fill="none" stroke="#111" stroke-width="0.8" stroke-linecap="round" stroke-linejoin="round"/>
<path d="M 315 656.6 C 317 654.6 318.8 653.6 320.4 653.4 C 321.6 655.2 324.4 655.6 326.4 654.6 C 329 654 331 655.2 332.4 657.4" fill="none" stroke="#111" stroke-width="0.8" stroke-linecap="round" stroke-linejoin="round"/>
<path d="M 317.6 659 C 320 657.8 323 658 325.2 658.6 C 327.6 657.8 331 658 333.2 659" fill="none" stroke="#111" stroke-width="0.9" stroke-linecap="round" stroke-linejoin="round"/>
<path d="M 320.2 661.8 C 323.5 662.8 327.5 662.6 330.6 661.4" fill="none" stroke="#111" stroke-width="0.8" stroke-linecap="round" stroke-linejoin="round"/>
<path d="M 354.5 643 C 353.8 650 354 657 355 663 C 359 668 363 671.4 367.2 673.2 C 373 671.2 379 668 383.2 664.8 C 385 662 386.2 659.6 387 657 C 390 656 392 652 391.6 647 C 391.4 645 390.6 644.4 389.8 645 L 385 629 L 373 625 L 359 627 Z" fill="#fff" stroke="#111" stroke-width="0.95" stroke-linecap="round" stroke-linejoin="round"/>
<path d="M 354.2 643.6 C 352.8 638 352.8 630 355.4 624 C 358.5 618 365 614.2 373.2 614 C 381 614 388 618 391.5 625 C 394.2 631 394 639 392 644.2 C 390.2 645 388.4 646.6 387 649.2 C 387 645 386.6 640 386 636.2 C 385.4 632 385 630 384.6 628.8 C 381 627 377 626 373 626 C 368 626 362 626.6 359.2 627.6 C 356.8 629.6 355.6 633 355.4 636.2 C 355.2 639 355.2 641.4 355 643.2 Z" fill="#0a0a0a" stroke="#0a0a0a" stroke-width="0.6" stroke-linecap="round" stroke-linejoin="round"/>
<path d="M 387.8 650 C 389 648 390.2 647.2 391 647.4 C 391.2 651 390 654 387.8 656.2" fill="none" stroke="#111" stroke-width="0.6" stroke-linecap="round" stroke-linejoin="round"/>
<path d="M 355 640 C 357.8 639.4 361 639.6 363.6 640.6" fill="none" stroke="#111" stroke-width="0.8" stroke-linecap="round" stroke-linejoin="round"/>
<path d="M 369 641.6 C 372.5 640 376.5 639.6 380.2 640" fill="none" stroke="#111" stroke-width="0.8" stroke-linecap="round" stroke-linejoin="round"/>
<path d="M 356.6 643.6 C 358.5 642.8 361.2 643.2 363 644.4 C 360.8 645.2 358.4 645 356.6 643.6 Z" fill="#222" stroke="#111" stroke-width="0.4" stroke-linecap="round" stroke-linejoin="round"/>
<path d="M 370.6 645 C 373 643.6 376 643.4 378.2 644.2 C 376 646 373 646.2 370.6 645 Z" fill="#222" stroke="#111" stroke-width="0.4" stroke-linecap="round" stroke-linejoin="round"/>
<path d="M 364 641.2 C 364.4 645 364.2 649.6 363.6 653" fill="none" stroke="#111" stroke-width="0.8" stroke-linecap="round" stroke-linejoin="round"/>
<path d="M 357 659 C 358 656.2 359.6 654 361.4 653 C 362.2 654.4 363.4 655 364.6 654.6 C 366.4 655.2 368.6 654.6 370 653.2 C 372 655.2 373.6 658 374.6 661.2" fill="none" stroke="#111" stroke-width="0.8" stroke-linecap="round" stroke-linejoin="round"/>
<path d="M 360 660.2 C 362.5 659 366.5 659.2 369.6 660.4 C 367 662.4 362.5 662.4 360 660.2 Z" fill="#999" stroke="#111" stroke-width="0.4" stroke-linecap="round" stroke-linejoin="round"/>
<path d="M 360 660.2 C 362.5 659 366.5 659.2 369.6 660.4 C 367 662.4 362.5 662.4 360 660.2 Z" fill="none" stroke="#111" stroke-width="0.8" stroke-linecap="round" stroke-linejoin="round"/>
<path d="M 397.6 638.5 C 396.2 644 396 650 397.2 655 C 399 662 404 668 410.2 670.4 C 416 669.6 422 666.2 426.4 661.6 C 429 659 430.4 657.4 431.4 655.6 C 435 654 437.4 649 437 643.6 C 436.8 642.2 436 642.2 435 643 L 430 629 L 417 626 L 405 631 Z" fill="#fff" stroke="#111" stroke-width="0.95" stroke-linecap="round" stroke-linejoin="round"/>
<path d="M 397.4 639.2 C 398 634 401 627 406 622 C 411 617.4 417 615.6 422.2 616 C 429 616.6 435 621 438 627 C 440.4 632.4 440 639 438 643.4 C 436 643.6 433.8 644.6 432.2 646.4 C 432.2 642 431.8 638 430.8 635.2 C 429.6 631.6 428 629.6 426.4 628.6 C 423 627.2 419.6 627 416.8 627.4 C 412 628.2 407.6 630.2 404.8 632.2 C 402 634.4 399.2 637 397.4 639.2 Z" fill="#0a0a0a" stroke="#0a0a0a" stroke-width="0.6" stroke-linecap="round" stroke-linejoin="round"/>
<path d="M 432.8 647.2 C 434 645.2 435.4 644.4 436.4 644.6 C 436.4 648.4 435 652 432.6 654.6" fill="none" stroke="#111" stroke-width="0.6" stroke-linecap="round" stroke-linejoin="round"/>
<path d="M 398 639.2 C 401 638 404 637.6 407.2 638.2" fill="none" stroke="#111" stroke-width="1.0" stroke-linecap="round" stroke-linejoin="round"/>
<path d="M 413 640.2 C 416 638.4 419.8 637.4 423.2 637.6" fill="none" stroke="#111" stroke-width="1.2" stroke-linecap="round" stroke-linejoin="round"/>
<path d="M 399 642.4 C 400.8 641.6 403.2 642 405 643.4 C 403 644.2 400.6 644 399 642.4 Z" fill="#222" stroke="#111" stroke-width="0.4" stroke-linecap="round" stroke-linejoin="round"/>
<path d="M 413.8 643.8 C 416 642.4 419 642.2 421.2 642.8 C 419.2 644.6 416.2 645 413.8 643.8 Z" fill="#222" stroke="#111" stroke-width="0.4" stroke-linecap="round" stroke-linejoin="round"/>
<path d="M 409 639 C 407.6 643 405 648 403 651.6 C 402 653.6 401 654.8 400.4 655.6" fill="none" stroke="#111" stroke-width="0.8" stroke-linecap="round" stroke-linejoin="round"/>
<path d="M 404 651.2 C 405.5 652.4 408 652.6 409.6 651.6 C 410.6 650.2 411.6 649.4 412.2 649.2 C 414.8 652 416.8 655.2 418 658.2" fill="none" stroke="#111" stroke-width="0.8" stroke-linecap="round" stroke-linejoin="round"/>
<path d="M 402.4 657 C 405 655.8 408 656.2 410 656.8 C 411.5 656.4 412.6 656.8 413.2 657.4" fill="none" stroke="#111" stroke-width="0.9" stroke-linecap="round" stroke-linejoin="round"/>
<path d="M 403 657.6 C 406 657 410 657.2 412.8 657.8 C 410 659.6 406 659.6 403 657.6 Z" fill="#999" stroke="#111" stroke-width="0.4" stroke-linecap="round" stroke-linejoin="round"/>
</g>
<g id="facelabels">
<path d="M228 675.4H440.2M267.6 675.4V686.2M306.6 675.4V686.2M350.0 675.4V686.2M394.4 675.4V686.2" stroke="#333" stroke-width="0.7" fill="none"/>
<text x="246.6" y="682.8" font-family='"Liberation Sans", "NanumGothic", "Noto Sans CJK KR", "Noto Sans CJK SC", sans-serif' font-size="5.8" font-weight="800" text-anchor="middle" fill="#111" textLength="16.6" lengthAdjust="spacingAndGlyphs">목(木)형</text>
<text x="286" y="682.8" font-family='"Liberation Sans", "NanumGothic", "Noto Sans CJK KR", "Noto Sans CJK SC", sans-serif' font-size="5.8" font-weight="800" text-anchor="middle" fill="#111" textLength="16.6" lengthAdjust="spacingAndGlyphs">화(火)형</text>
<text x="328.2" y="682.8" font-family='"Liberation Sans", "NanumGothic", "Noto Sans CJK KR", "Noto Sans CJK SC", sans-serif' font-size="5.8" font-weight="800" text-anchor="middle" fill="#111" textLength="16.6" lengthAdjust="spacingAndGlyphs">토(土)형</text>
<text x="371.4" y="682.8" font-family='"Liberation Sans", "NanumGothic", "Noto Sans CJK KR", "Noto Sans CJK SC", sans-serif' font-size="5.8" font-weight="800" text-anchor="middle" fill="#111" textLength="16.6" lengthAdjust="spacingAndGlyphs">금(金)형</text>
<text x="415.6" y="682.8" font-family='"Liberation Sans", "NanumGothic", "Noto Sans CJK KR", "Noto Sans CJK SC", sans-serif' font-size="5.8" font-weight="800" text-anchor="middle" fill="#111" textLength="16.6" lengthAdjust="spacingAndGlyphs">수(水)형</text>
</g>
<g id="numerals">
<text x="532.7" y="40.5" font-family='"Liberation Serif", serif' font-size="16.4" text-anchor="middle" font-weight="normal" font-style="italic" fill="#111" stroke="#111" stroke-width="0.25">1</text>
<line x1="527.1" y1="44.7" x2="536" y2="44.7" stroke="#111" stroke-width="1.8" />
<path d="M530.8 50 C529.6 58 523 62 517 67 C513 70.5 511 74 509.6 78" fill="none" stroke="#111" stroke-width="0.9" stroke-linecap="round" stroke-linejoin="round" />
<polygon points="507.6,82.2 508.87,74.59 512.19,76" fill="#111" stroke="none" stroke-width="0" stroke-linejoin="round" />
<text x="369.4" y="245" font-family='"Liberation Serif", serif' font-size="17" text-anchor="middle" font-weight="normal" font-style="italic" fill="#111" textLength="20.4" lengthAdjust="spacingAndGlyphs" stroke="#111" stroke-width="0.25">200</text>
<path d="M369.6 247.9 C370.4 251.6 368.6 253.6 366.2 255.6 C363.6 257.8 362.2 259.2 362.5 261.4" fill="none" stroke="#111" stroke-width="0.9" stroke-linecap="round" stroke-linejoin="round" />
<text x="365.7" y="527" font-family='"Liberation Serif", serif' font-size="17" text-anchor="middle" font-weight="normal" font-style="italic" fill="#111" textLength="21.2" lengthAdjust="spacingAndGlyphs" stroke="#111" stroke-width="0.25">300</text>
<path d="M344.2 497.1 C346.6 499.2 348.6 500.6 349.4 502.4 C350.4 505.0 350.0 508.0 350.8 510.6 C351.6 513.6 353.0 515.8 355.8 517.2" fill="none" stroke="#111" stroke-width="0.9" stroke-linecap="round" stroke-linejoin="round" />
<text x="94.4" y="322.8" font-family='"Liberation Serif", serif' font-size="17" text-anchor="middle" font-weight="normal" font-style="italic" fill="#111" textLength="19.6" lengthAdjust="spacingAndGlyphs" stroke="#111" stroke-width="0.25">100</text>
<text x="562.5" y="322.7" font-family='"Liberation Serif", serif' font-size="17" text-anchor="middle" font-weight="normal" font-style="italic" fill="#111" textLength="20.8" lengthAdjust="spacingAndGlyphs" stroke="#111" stroke-width="0.25">400</text>
</g>
</svg></body></html>
